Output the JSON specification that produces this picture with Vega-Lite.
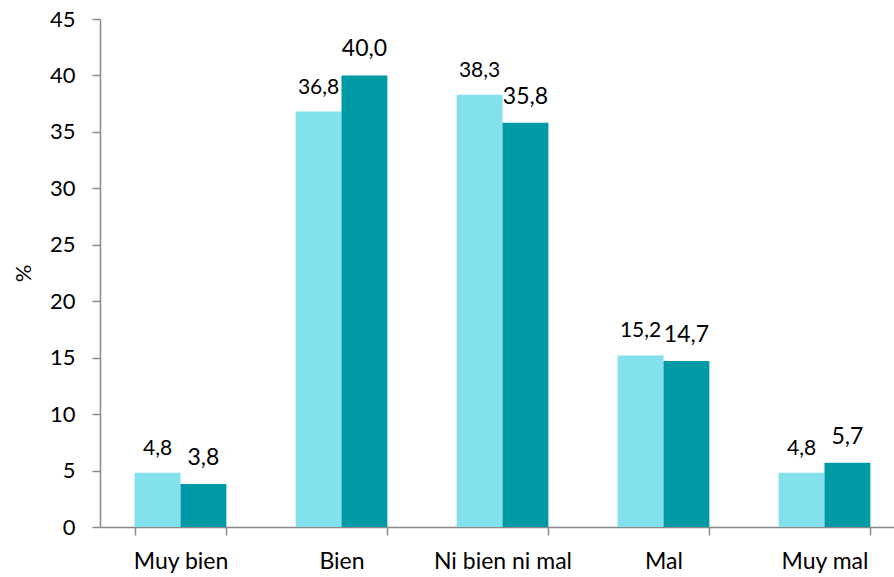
{
  "$schema": "https://vega.github.io/schema/vega-lite/v6.json",
  "autosize": {"type": "none"},
  "width": 805,
  "height": 508,
  "padding": {"left": 100, "top": 19, "right": 0, "bottom": 50},
  "background": "white",
  "config": {"view": {"stroke": null}, "font": "Lato"},
  "data": {"values": [
    {"cat": "Muy bien", "serie": "A", "v": 4.8, "label": "4,8"},
    {"cat": "Muy bien", "serie": "B", "v": 3.8, "label": "3,8"},
    {"cat": "Bien", "serie": "A", "v": 36.8, "label": "36,8"},
    {"cat": "Bien", "serie": "B", "v": 40.0, "label": "40,0"},
    {"cat": "Ni bien ni mal", "serie": "A", "v": 38.3, "label": "38,3"},
    {"cat": "Ni bien ni mal", "serie": "B", "v": 35.8, "label": "35,8"},
    {"cat": "Mal", "serie": "A", "v": 15.2, "label": "15,2"},
    {"cat": "Mal", "serie": "B", "v": 14.7, "label": "14,7"},
    {"cat": "Muy mal", "serie": "A", "v": 4.8, "label": "4,8"},
    {"cat": "Muy mal", "serie": "B", "v": 5.7, "label": "5,7"}
  ]},
  "encoding": {
    "x": {
      "field": "cat", "type": "nominal", "sort": null,
      "scale": {"paddingInner": 0.43, "paddingOuter": 0.215},
      "axis": {
        "title": null, "labelAngle": 0, "labelFontSize": 23, "labelColor": "#000",
        "labelPadding": 15, "domainColor": "#898989", "domainWidth": 1.5,
        "tickColor": "#898989", "tickWidth": 1.5, "tickSize": 8, "tickBand": "extent"
      }
    },
    "xOffset": {"field": "serie", "type": "nominal", "scale": {"paddingInner": 0, "paddingOuter": 0}},
    "y": {
      "field": "v", "type": "quantitative",
      "scale": {"domain": [0, 45], "nice": false},
      "axis": {
        "title": "%", "titleFontSize": 22, "titleFontWeight": "normal", "titleColor": "#000",
        "titlePadding": 14, "values": [0, 5, 10, 15, 20, 25, 30, 35, 40, 45],
        "grid": false, "labelFontSize": 22, "labelColor": "#000", "labelPadding": 17,
        "domainColor": "#898989", "domainWidth": 1.5,
        "tickColor": "#898989", "tickWidth": 1.5, "tickSize": 8
      }
    }
  },
  "layer": [
    {
      "mark": {"type": "bar"},
      "encoding": {
        "color": {"field": "serie", "type": "nominal", "legend": null,
          "scale": {"domain": ["A", "B"], "range": ["#82E1ED", "#009AA6"]}}
      }
    },
    {
      "transform": [{"filter": "datum.serie === 'A'"}],
      "mark": {"type": "text", "baseline": "alphabetic", "dy": -18, "fontSize": 21, "color": "#000"},
      "encoding": {"text": {"field": "label"}}
    },
    {
      "transform": [{"filter": "datum.serie === 'B'"}],
      "mark": {"type": "text", "baseline": "alphabetic", "dy": -19, "fontSize": 23, "color": "#000"},
      "encoding": {"text": {"field": "label"}}
    }
  ]
}
